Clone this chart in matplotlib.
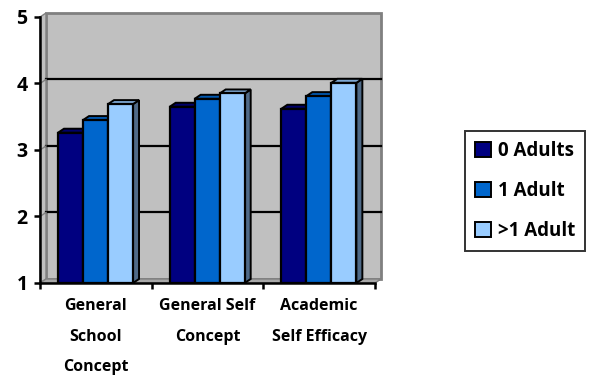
import matplotlib
matplotlib.use("Agg")
import matplotlib.pyplot as plt
from matplotlib.patches import Polygon, Patch
import numpy as np

plt.rcParams["font.family"] = ["Open Sans", "DejaVu Sans"]
plt.rcParams["font.weight"] = "bold"

categories = ["General\nSchool\nConcept", "General Self\nConcept", "Academic\nSelf Efficacy"]
series = ["0 Adults", "1 Adult", ">1 Adult"]
zero_adults = [3.26, 3.65, 3.62]
one_adult = [3.45, 3.77, 3.81]
more_adults = [3.69, 3.85, 4.01]
values = [zero_adults, one_adult, more_adults]

front_colors = ["#000080", "#0066CC", "#99CCFF"]
top_colors = ["#00006A", "#0058B0", "#7EA8D4"]
side_colors = ["#000050", "#004A90", "#4F6A88"]
wall = "#C0C0C0"
wall_edge = "#808080"

fig = plt.figure(figsize=(5.94, 3.76), dpi=100)
W, H = 594, 376
x0, x1, y0, y1 = 40, 375, 283, 17
ax = fig.add_axes([x0 / W, 1 - y0 / H, (x1 - x0) / W, (y0 - y1) / H])
ax.set_xlim(-0.5, 2.5)
ax.set_ylim(1, 5)

# depth offset of the 3d box, in data units
px_x = (x1 - x0) / 3.0
px_y = (y0 - y1) / 4.0
DX = 6 / px_x
DY = 4 / px_y

# back wall, side wall, floor
ax.add_patch(Polygon([(-0.5 + DX, 1 + DY), (2.5 + DX, 1 + DY), (2.5 + DX, 5 + DY), (-0.5 + DX, 5 + DY)],
                     closed=True, fc=wall, ec=wall_edge, lw=2, clip_on=False, zorder=0))
ax.add_patch(Polygon([(-0.5, 1), (-0.5 + DX, 1 + DY), (-0.5 + DX, 5 + DY), (-0.5, 5)],
                     closed=True, fc=wall, ec=wall_edge, lw=1, clip_on=False, zorder=0.5))
ax.add_patch(Polygon([(-0.5, 1), (2.5, 1), (2.5 + DX, 1 + DY), (-0.5 + DX, 1 + DY)],
                     closed=True, fc="#A8A8A8", ec=wall_edge, lw=1, clip_on=False, zorder=0.5))

# gridlines on the back wall
for g in [2, 3, 4]:
    ax.plot([-0.5 + DX, 2.5 + DX], [g + DY, g + DY], color="black", lw=1.6, zorder=1, clip_on=False)
    ax.plot([-0.5, -0.5 + DX], [g, g + DY], color=wall_edge, lw=1, zorder=1, clip_on=False)

width = 0.224
start = -0.339
z = 2
for i in range(len(categories)):
    for j, vals in enumerate(values):
        xl = i + start + j * width
        v = vals[i]
        ax.bar(xl, v - 1, bottom=1, width=width, align="edge", color=front_colors[j],
               edgecolor="black", lw=1.6, zorder=z + 0.2)
        ax.add_patch(Polygon([(xl, v), (xl + width, v), (xl + width + DX, v + DY), (xl + DX, v + DY)],
                             closed=True, fc=top_colors[j], ec="black", lw=1.4, zorder=z + 0.1))
        ax.add_patch(Polygon([(xl + width, 1), (xl + width, v), (xl + width + DX, v + DY), (xl + width + DX, 1 + DY)],
                             closed=True, fc=side_colors[j], ec="black", lw=1.4, zorder=z))
        z += 1

for s in ["top", "right"]:
    ax.spines[s].set_visible(False)
for s in ["left", "bottom"]:
    ax.spines[s].set_linewidth(1.8)
    ax.spines[s].set_zorder(20)

ax.set_yticks([1, 2, 3, 4, 5])
ax.set_yticklabels(["1", "2", "3", "4", "5"], fontsize=14, fontweight="bold")
ax.tick_params(axis="y", length=4, width=1.8, pad=5)

ax.set_xticks([0, 1, 2])
ax.set_xticklabels(categories, fontsize=11.5, fontweight="bold", linespacing=2.2)
ax.set_xticks([-0.5, 0.5, 1.5, 2.5], minor=True)
ax.tick_params(axis="x", which="major", length=0, pad=11)
ax.tick_params(axis="x", which="minor", length=4, width=1.8)

handles = [Patch(fc=c, ec="black", lw=1.4) for c in front_colors]
leg = fig.legend(handles, series, loc="center", bbox_to_anchor=(525 / W, 1 - 191 / H),
                 prop={"size": 13.5, "weight": "bold"}, frameon=True, fancybox=False,
                 edgecolor="black", handlelength=0.85, handleheight=0.85, handletextpad=0.35,
                 labelspacing=1.05, borderpad=0.55)
leg.get_frame().set_linewidth(1.4)

fig.savefig("out.png", dpi=100)
